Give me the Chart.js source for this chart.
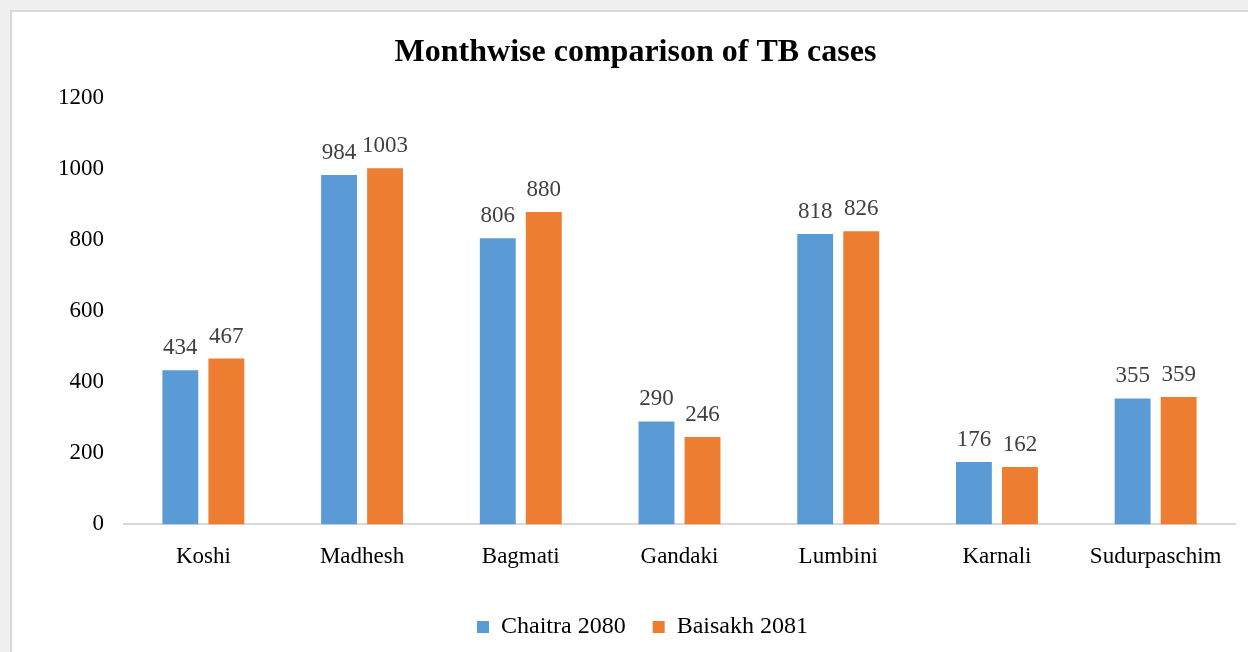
<!DOCTYPE html>
<html>
<head>
<meta charset="utf-8">
<script src="https://cdn.jsdelivr.net/npm/chart.js@4.4.0/dist/chart.umd.min.js"></script>
<style>
  html, body { margin: 0; padding: 0; background: #f0f0f0; overflow: hidden; }
  .frame {
    position: absolute; left: 10px; top: 10px;
    width: 1300px; height: 700px;
    background: #fff; border: 2px solid #d9d9d9;
  }
  .chart-box {
    position: absolute; left: 12px; top: 12px;
    width: 1236px; height: 640px;
  }
</style>
</head>
<body>
<div class="frame"></div>
<div class="chart-box"><canvas id="chart"></canvas></div>
<script>
// --- Data ---
const provinces = ['Koshi', 'Madhesh', 'Bagmati', 'Gandaki', 'Lumbini', 'Karnali', 'Sudurpaschim'];
const chaitra2080 = [434, 984, 806, 290, 818, 176, 355];
const baisakh2081 = [467, 1003, 880, 246, 826, 162, 359];
const yTicks = [0, 200, 400, 600, 800, 1000, 1200];

const serif = '"Liberation Serif", "Times New Roman", serif';

// draws the value above each bar
const barValues = {
    id: 'barValues',
    afterDatasetsDraw(chart) {
        const ctx = chart.ctx;
        ctx.save();
        ctx.font = '23px ' + serif;
        ctx.fillStyle = '#404040';
        ctx.textAlign = 'center';
        ctx.textBaseline = 'alphabetic';
        chart.data.datasets.forEach((ds, i) => {
            chart.getDatasetMeta(i).data.forEach((bar, j) => {
                ctx.fillText(ds.data[j], bar.x, bar.y - 16);
            });
        });
        ctx.restore();
    }
};

// nudge title and legend to the right, like the original
const blockShift = {
    id: 'blockShift',
    afterLayout(chart) {
        if (chart.titleBlock) {
            chart.titleBlock.left += 12;
            chart.titleBlock.right += 12;
        }
        if (chart.legend) {
            chart.legend.left += 19;
            chart.legend.right += 19;
        }
    }
};

new Chart(document.getElementById('chart'), {
    type: 'bar',
    data: {
        labels: provinces,
        datasets: [
            { label: 'Chaitra 2080', data: chaitra2080, backgroundColor: '#5B9BD5' },
            { label: 'Baisakh 2081', data: baisakh2081, backgroundColor: '#ED7D31' }
        ]
    },
    options: {
        responsive: true,
        maintainAspectRatio: false,
        animation: false,
        categoryPercentage: 0.58,
        barPercentage: 0.78,
        layout: { padding: { left: 0, right: 13, top: 0, bottom: 3 } },
        scales: {
            x: {
                afterFit: (scale) => { scale.height -= 2; },
                grid: { display: false, drawTicks: false },
                border: { display: true, color: '#d9d9d9', width: 2 },
                ticks: { color: '#000', font: { family: serif, size: 23 }, padding: 19 }
            },
            y: {
                min: 0, max: 1200,
                afterFit: (scale) => { scale.width = 112; },
                afterBuildTicks: (scale) => { scale.ticks = yTicks.map(v => ({ value: v })); },
                grid: { display: false, drawTicks: false },
                border: { display: false },
                ticks: {
                    color: '#000',
                    font: { family: serif, size: 23 },
                    padding: 20,
                    callback: (v) => String(v)
                }
            }
        },
        plugins: {
            title: {
                display: true,
                text: 'Monthwise comparison of TB cases',
                color: '#000',
                font: { family: serif, size: 32, weight: 'bold' },
                padding: { top: 22, bottom: 26 }
            },
            legend: {
                position: 'bottom',
                labels: {
                    color: '#000',
                    font: { family: serif, size: 24 },
                    boxWidth: 12, boxHeight: 12,
                    padding: 27
                }
            },
            tooltip: { enabled: false }
        }
    },
    plugins: [barValues, blockShift]
});
</script>
</body>
</html>
